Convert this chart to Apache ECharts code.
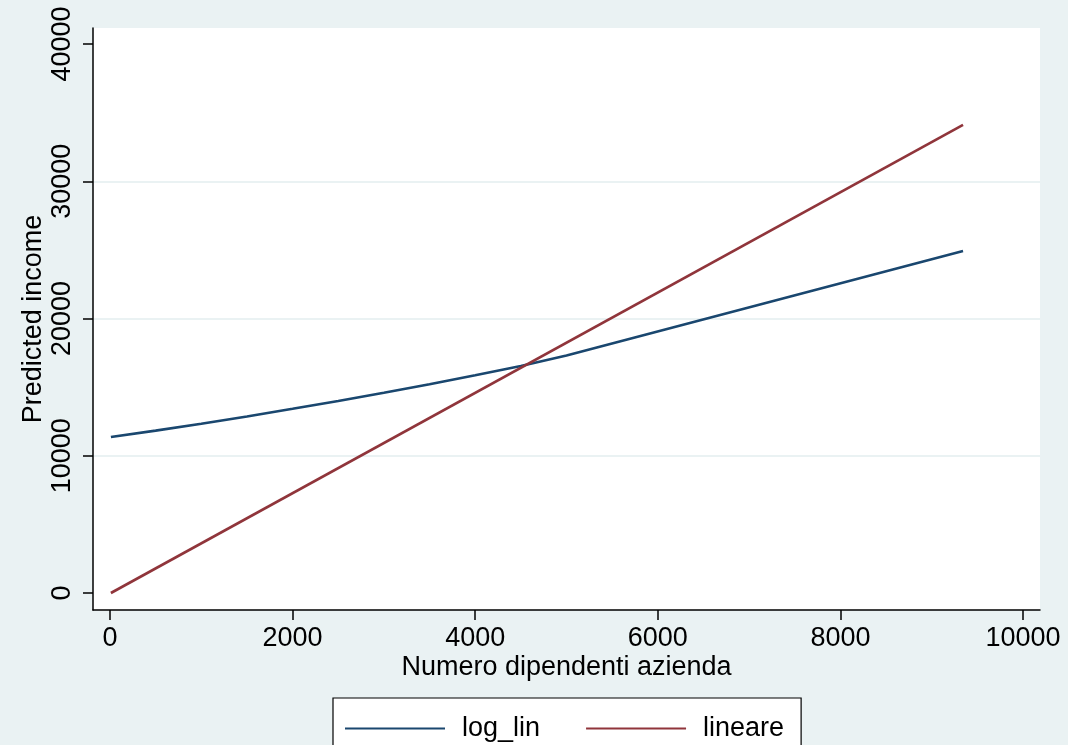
<!DOCTYPE html>
<html>
<head>
<meta charset="utf-8">
<script src="https://cdn.jsdelivr.net/npm/echarts@6/dist/echarts.min.js"></script>
<style>
html,body{margin:0;padding:0;background:#eaf2f3;}
#chart{width:1068px;height:745px;}
</style>
</head>
<body>
<div id="chart"></div>
<script>
// Data
const seriesNames = ['log_lin', 'lineare'];
const logLinX = [10, 500, 1000, 1500, 2000, 2500, 3000, 3500, 4000, 4500, 5000, 9343];
const logLinY = [11370, 11830, 12330, 12860, 13420, 13990, 14590, 15210, 15860, 16540, 17300, 24920];
const lineareX = [10, 9343];
const lineareY = [0, 34100];
const xTicks = [0, 2000, 4000, 6000, 8000, 10000];
const yTicks = [0, 10000, 20000, 30000, 40000];
const xTitle = 'Numero dipendenti azienda';
const yTitle = 'Predicted income';

const pairs = (xs, ys) => xs.map((x, i) => [x, ys[i]]);
const FONT = 'Liberation Sans, Arial, Helvetica, sans-serif';
const FS = 27;

const chart = echarts.init(document.getElementById('chart'), null, {renderer: 'canvas'});
chart.setOption({
  backgroundColor: '#eaf2f3',
  animation: false,
  textStyle: {fontFamily: FONT},
  grid: {left: 93, right: 28, top: 28, bottom: 135, show: true, backgroundColor: '#ffffff', borderWidth: 0},
  xAxis: {
    type: 'value',
    min: -186, max: 10186,
    name: xTitle,
    nameLocation: 'middle',
    nameGap: 44,
    nameMoveOverlap: false,
    nameTextStyle: {fontSize: FS, color: '#000', fontFamily: FONT},
    axisLine: {show: true, onZero: false, lineStyle: {color: '#000', width: 1.5}},
    axisTick: {show: true, length: 10, customValues: xTicks, lineStyle: {color: '#000', width: 1.5}},
    axisLabel: {customValues: xTicks, fontSize: FS, color: '#000', margin: 15, fontFamily: FONT,
      formatter: v => String(v)},
    splitLine: {show: false}
  },
  yAxis: {
    type: 'value',
    min: -1239, max: 41166,
    name: yTitle,
    nameLocation: 'middle',
    nameGap: 46,
    nameMoveOverlap: false,
    nameTextStyle: {fontSize: FS, color: '#000', fontFamily: FONT},
    axisLine: {show: true, onZero: false, lineStyle: {color: '#000', width: 1.5}},
    axisTick: {show: true, length: 10, customValues: yTicks, lineStyle: {color: '#000', width: 1.5}},
    axisLabel: {customValues: yTicks, rotate: 90, fontSize: FS, color: '#000', margin: 17, fontFamily: FONT,
      formatter: v => String(v)},
    splitLine: {show: true, showMinLine: false, showMaxLine: false, lineStyle: {color: '#eaf2f3', width: 2}}
  },
  legend: {
    data: seriesNames.map(n => ({name: n, icon: 'rect'})),
    left: 333, top: 698,
    padding: [17, 17, 20, 12],
    itemWidth: 100, itemHeight: 2,
    itemGap: 46,
    selectedMode: false,
    backgroundColor: '#ffffff',
    borderColor: '#000',
    borderWidth: 1.2,
    borderRadius: 0,
    textStyle: {fontSize: FS, color: '#000', fontFamily: FONT, padding: [0, 0, 0, 12]}
  },
  series: [
    {
      name: seriesNames[0], type: 'line', data: pairs(logLinX, logLinY),
      showSymbol: false, symbol: 'none', smooth: false,
      lineStyle: {color: '#1a476f', width: 2.6}, itemStyle: {color: '#1a476f'}
    },
    {
      name: seriesNames[1], type: 'line', data: pairs(lineareX, lineareY),
      showSymbol: false, symbol: 'none', smooth: false,
      lineStyle: {color: '#90353b', width: 2.6}, itemStyle: {color: '#90353b'}
    }
  ]
});
</script>
</body>
</html>
